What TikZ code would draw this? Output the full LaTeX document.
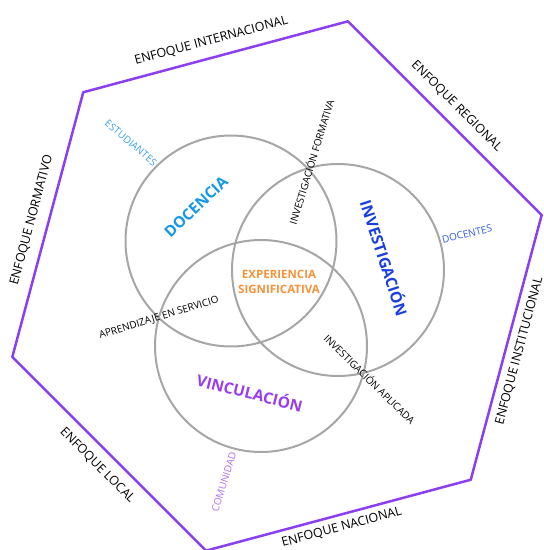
\documentclass[tikz,border=0pt]{standalone}
\usepackage{fontspec}
\setmainfont{Open Sans}
\usepackage{pgf,tikz}
\usetikzlibrary{calc}
\definecolor{ttqqff}{RGB}{138,63,242}
\definecolor{aaaaaa}{RGB}{166,166,166}
\definecolor{qqttff}{RGB}{20,152,232}
\definecolor{qqzzff}{RGB}{58,160,232}
\definecolor{qqqqdd}{RGB}{26,63,224}
\definecolor{qqwwff}{RGB}{46,91,230}
\definecolor{vvqqff}{RGB}{155,59,240}
\definecolor{zzwwff}{RGB}{180,110,240}
\definecolor{ffvvqq}{RGB}{245,146,58}
\tikzset{
  eje/.style={text=black,font=\fontsize{12.5}{14}\selectfont},
  esfera/.style={font=\bfseries\fontsize{15.5}{18}\selectfont},
  actor/.style={font=\fontsize{10}{12}\selectfont},
  cruce/.style={text=black,font=\fontsize{10}{12}\selectfont},
  circulo/.style={color=aaaaaa,line width=2pt}
}
\begin{document}
\begin{tikzpicture}[line cap=round,line join=round,x=1pt,y=1pt]
\useasboundingbox (0,0) rectangle (544,550);
\coordinate (c) at (277,264);
% hexagono de enfoques
\draw[color=ttqqff,line width=2.5pt] (c) ++(15:274) -- ++(135:274) -- ++(195:274) -- ++(255:274) -- ++(315:274) -- ++(15:274) -- cycle;
\node[eje,rotate=-45] (regional) at ($(c)+(45:254)$) {ENFOQUE REGIONAL};
\node[eje,rotate=15] (internacional) at ($(c)+(105:254)$) {ENFOQUE INTERNACIONAL};
\node[eje,rotate=75] (normativo) at ($(c)+(165:254)$) {ENFOQUE NORMATIVO};
\node[eje,rotate=-45] (local) at ($(c)+(225:254)$) {ENFOQUE LOCAL};
\node[eje,rotate=15] (nacional) at ($(c)+(285:250)$) {ENFOQUE NACIONAL};
\node[eje,rotate=75] (institucional) at ($(c)+(345:251)$) {ENFOQUE INSTITUCIONAL};
% circulos
\draw[circulo] (231,309) circle (105.5);
\draw[circulo] (338,280) circle (106);
\draw[circulo] (261,204) circle (106);
\node[esfera,text=qqttff,rotate=43.5] (docencia) at (196,343) {DOCENCIA};
\node[esfera,text=qqqqdd,rotate=-72] (investigacion) at (385,292) {INVESTIGACIÓN};
\node[esfera,text=vvqqff,rotate=-14] (vinculacion) at (250,158) {VINCULACIÓN};
\node[text=ffvvqq,font=\bfseries\fontsize{11.5}{15}\selectfont,align=center] (experiencia) at (279,268) {EXPERIENCIA\\SIGNIFICATIVA};
\node[actor,text=qqzzff,rotate=-40.5] (estudiantes) at (131,407) {ESTUDIANTES};
\node[actor,text=qqwwff,rotate=13.5] (docentes) at (467,316) {DOCENTES};
\node[actor,text=zzwwff,rotate=72.5] (comunidad) at (224,68) {COMUNIDAD};
\node[cruce,rotate=73] (formativa) at (311,388) {INVESTIGACIÓN FORMATIVA};
\node[cruce,rotate=17] (servicio) at (159,232) {APRENDIZAJE EN SERVICIO};
\node[cruce,rotate=-44.5] (aplicada) at (370,171) {INVESTIGACIÓN APLICADA};
\end{tikzpicture}
\end{document}
